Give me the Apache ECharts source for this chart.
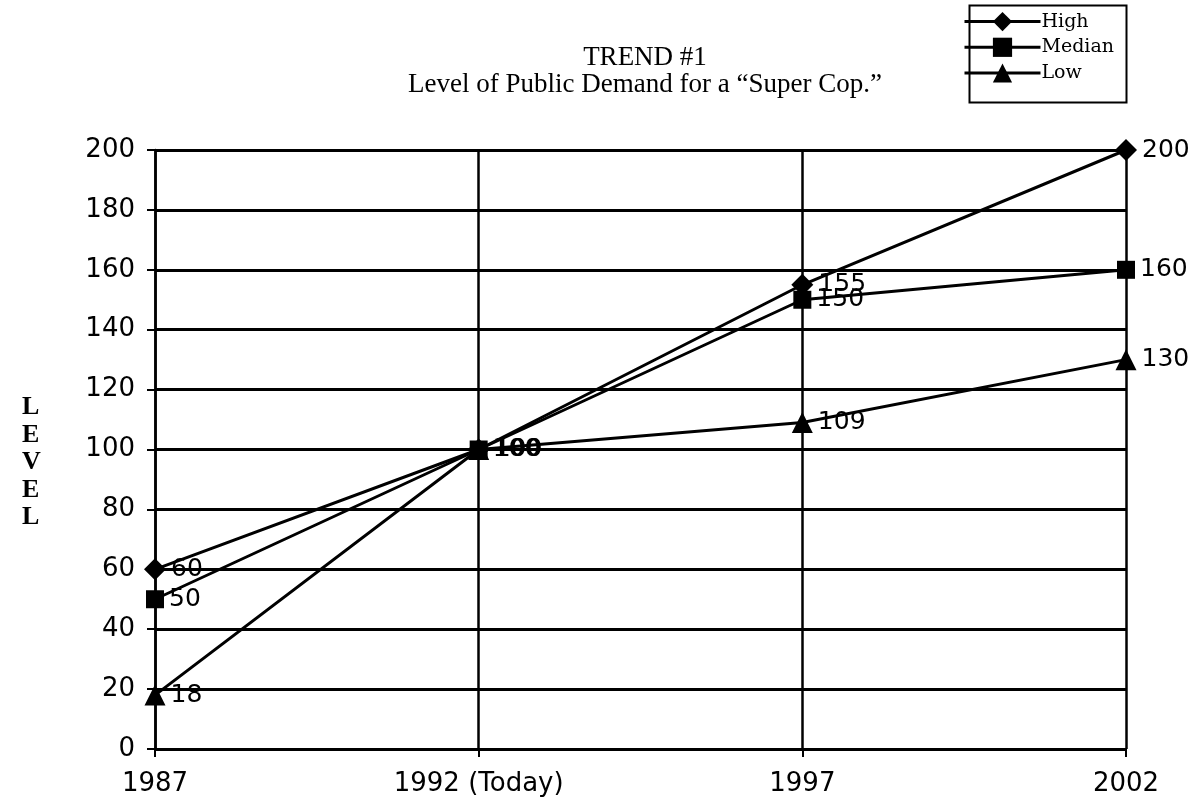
<!DOCTYPE html>
<html>
<head>
<meta charset="utf-8">
<script src="https://cdn.jsdelivr.net/npm/echarts@6/dist/echarts.min.js"></script>
<style>
  html, body { margin: 0; padding: 0; background: #fff; }
  #container { width: 1199px; height: 810px; }
</style>
</head>
<body>
<div id="container"></div>
<script>
const years = ['1987', '1992 (Today)', '1997', '2002'];
const high = [60, 100, 155, 200];
const median = [50, 100, 150, 160];
const low = [18, 100, 109, 130];
const yTicks = { min: 0, max: 200, interval: 20 };

const myChart = echarts.init(document.getElementById('container'));

const mkSeries = (name, data, symbol, size) => ({
    name: name,
    type: 'line',
    data: data,
    symbol: symbol,
    symbolSize: size,
    lineStyle: { color: '#000', width: 3 },
    itemStyle: { color: '#000' },
    label: {
        show: true,
        position: 'right',
        distance: 5,
        color: '#000',
        fontSize: 25,
        fontFamily: 'DejaVu Sans',
    },
});

const option = {
    backgroundColor: '#fff',
    animation: false,
    title: {
        text: 'TREND #1',
        subtext: 'Level of Public Demand for a \u201cSuper Cop.\u201d',
        left: 640,
        textAlign: 'center',
        top: 39,
        itemGap: 0,
        textStyle: { fontFamily: 'Liberation Serif', fontWeight: 'normal', fontSize: 27, color: '#000' },
        subtextStyle: { fontFamily: 'Liberation Serif', fontSize: 27, color: '#000' },
    },
    legend: {
        orient: 'vertical',
        left: 963,
        top: 12,
        padding: 0,
        itemGap: 6.5,
        itemWidth: 76,
        itemHeight: 24,
        lineStyle: { width: 3, color: '#000' },
        textStyle: { fontFamily: 'DejaVu Serif', fontSize: 19, color: '#000', padding: [0, 0, 0, -4] },
        data: ['High', 'Median', 'Low'],
    },
    grid: { left: 155, right: 73, top: 150, bottom: 61 },
    graphic: [{
        type: 'rect',
        left: 967,
        top: 3,
        shape: { width: 157, height: 97 },
        style: { fill: 'none', stroke: '#000', lineWidth: 2 },
    }, {
        type: 'text',
        left: 22,
        top: 394,
        style: {
            text: 'L\nE\nV\nE\nL',
            font: 'bold 26px "Liberation Serif"',
            lineHeight: 27.5,
            fill: '#000',
            align: 'center',
        },
    }],
    xAxis: {
        type: 'category',
        data: years,
        boundaryGap: false,
        axisLine: { lineStyle: { color: '#000', width: 2 } },
        axisTick: { show: true, alignWithLabel: true, length: 8, lineStyle: { color: '#000', width: 2 } },
        axisLabel: { color: '#000', fontSize: 26, fontFamily: 'DejaVu Sans', margin: 22 },
        splitLine: { show: true, lineStyle: { color: '#000', width: 2.5 } },
    },
    yAxis: {
        type: 'value',
        min: yTicks.min,
        max: yTicks.max,
        interval: yTicks.interval,
        axisLine: { show: true, lineStyle: { color: '#000', width: 2.5 } },
        axisTick: { show: true, length: 8, lineStyle: { color: '#000', width: 2 } },
        axisLabel: { color: '#000', fontSize: 26, fontFamily: 'DejaVu Sans', margin: 20 },
        splitLine: { show: true, lineStyle: { color: '#000', width: 3 } },
    },
    series: [
        mkSeries('High', high, 'diamond', 22),
        mkSeries('Median', median, 'rect', 18),
        mkSeries('Low', low, 'triangle', 21),
    ],
};
myChart.setOption(option);
window.addEventListener('resize', () => {
    myChart.resize()
})
</script>
</body>
</html>
